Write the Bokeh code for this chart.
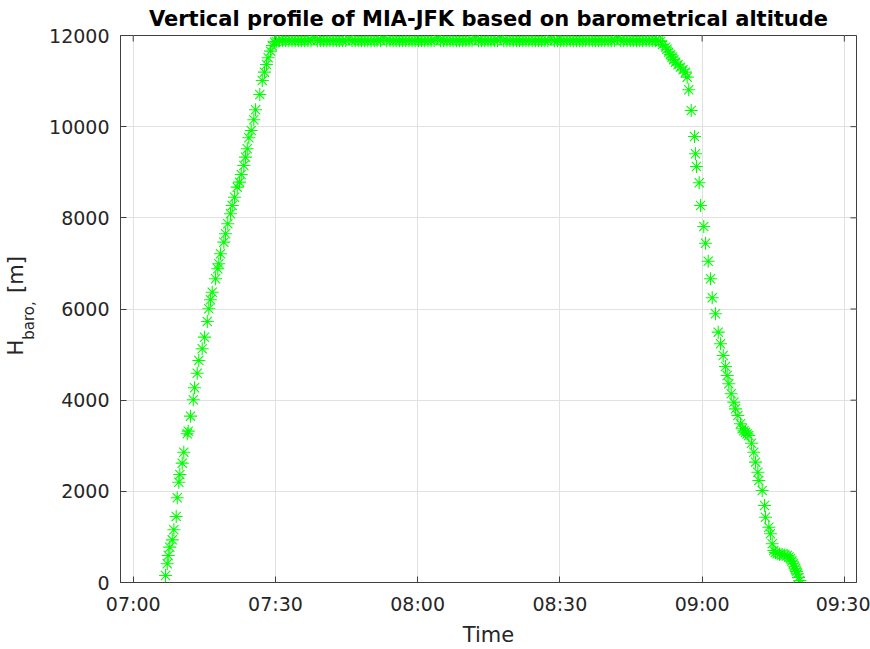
import math
import pandas as pd
from bokeh.plotting import figure
from bokeh.layouts import row
from bokeh.models import ColumnDataSource, FixedTicker, Range1d
from bokeh.core.properties import value
from bokeh.embed import file_html
from bokeh.resources import INLINE

# ---------------- data (seconds after 07:00, altitude in m) ----------------
DATE = "2019-06-01"

climb_s = [409, 430, 443, 463, 494, 514, 544, 557, 577, 590,
           620, 640, 683, 696, 725, 760, 776, 810, 830, 873,
           902, 937, 957, 978, 1000, 1042, 1070, 1083, 1105, 1147,
           1168, 1197, 1231, 1253, 1282, 1316, 1345, 1367, 1400, 1421,
           1443, 1463, 1493, 1526, 1548, 1602, 1633, 1661, 1687, 1708,
           1738, 1759, 1788]
climb_alt = [154, 410, 592, 775, 936, 1156, 1448, 1858, 2200, 2369,
             2618, 2859, 3262, 3320, 3649, 4008, 4272, 4592, 4870, 5127,
             5382, 5726, 6005, 6202, 6369, 6663, 6883, 6992, 7212, 7466,
             7650, 7870, 8089, 8271, 8453, 8673, 8783, 8951, 9149, 9331,
             9515, 9756, 9917, 10151, 10370, 10706, 11013, 11196, 11365, 11512,
             11657, 11781, 11854]

cruise_s = [1810, 1850, 1888, 1930, 1970, 2009, 2050, 2090, 2128, 2170,
            2210, 2249, 2290, 2330, 2368, 2410, 2450, 2489, 2530, 2570,
            2608, 2650, 2690, 2729, 2770, 2810, 2848, 2890, 2930, 2969,
            3010, 3050, 3088, 3130, 3170, 3209, 3250, 3290, 3328, 3370,
            3410, 3449, 3490, 3530, 3568, 3610, 3650, 3689, 3730, 3770,
            3808, 3850, 3890, 3929, 3970, 4010, 4048, 4090, 4130, 4169,
            4210, 4250, 4288, 4330, 4370, 4409, 4450, 4490, 4528, 4570,
            4610, 4649, 4690, 4730, 4768, 4810, 4850, 4889, 4930, 4970,
            5008, 5050, 5090, 5129, 5170, 5210, 5248, 5290, 5330, 5369,
            5410, 5450, 5488, 5530, 5570, 5609, 5650, 5690, 5728, 5770,
            5810, 5849, 5890, 5930, 5968, 6010, 6050, 6089, 6130, 6170,
            6208, 6250, 6290, 6329, 6370, 6410, 6448, 6490, 6530, 6569,
            6610, 6650]
cruise_alt = [11870, 11887, 11887, 11887, 11887, 11887, 11887, 11887, 11887, 11887,
              11887, 11887, 11948, 11887, 11887, 11887, 11887, 11887, 11887, 11887,
              11887, 11887, 11887, 11918, 11887, 11887, 11887, 11887, 11887, 11887,
              11887, 11887, 11887, 11887, 11948, 11887, 11887, 11887, 11887, 11887,
              11887, 11887, 11887, 11887, 11887, 11887, 11887, 11887, 11887, 11887,
              11887, 11948, 11887, 11887, 11887, 11887, 11887, 11887, 11887, 11887,
              11887, 11887, 11887, 11948, 11887, 11887, 11887, 11887, 11887, 11887,
              11887, 11948, 11887, 11887, 11887, 11887, 11887, 11887, 11887, 11887,
              11887, 11887, 11887, 11887, 11887, 11887, 11887, 11918, 11887, 11887,
              11887, 11887, 11887, 11887, 11887, 11887, 11887, 11887, 11887, 11887,
              11887, 11887, 11887, 11887, 11887, 11887, 11887, 11887, 11948, 11887,
              11887, 11887, 11887, 11887, 11887, 11887, 11887, 11887, 11887, 11887,
              11887, 11887]

descent_s = [6675, 6699, 6737, 6755, 6778, 6800, 6821, 6841, 6863, 6895,
             6926, 6958, 6990, 7011, 7031, 7062, 7104, 7116, 7129, 7163,
             7180, 7221, 7243, 7277, 7306, 7328, 7369, 7404, 7433, 7467,
             7496, 7517, 7538, 7568, 7601, 7622, 7652, 7686, 7707, 7728,
             7749, 7770, 7791, 7825, 7854, 7876, 7905, 7918, 7960, 7990,
             8002, 8044, 8065, 8087, 8107, 8128, 8150, 8180, 8213, 8245,
             8277, 8300, 8319, 8336, 8353, 8368, 8382, 8393, 8403, 8420,
             8436]
descent_alt = [11870, 11800, 11745, 11700, 11635, 11580, 11525, 11470, 11415, 11360,
               11306, 11250, 11196, 11086, 10809, 10355, 9785, 9405, 9127, 8769,
               8271, 7810, 7444, 7049, 6663, 6246, 5895, 5492, 5237, 4980,
               4739, 4542, 4359, 4140, 3956, 3810, 3664, 3482, 3372, 3330,
               3298, 3260, 3225, 3056, 2859, 2640, 2420, 2238, 2018, 1689,
               1433, 1213, 1068, 849, 702, 660, 630, 620, 614, 605,
               592, 560, 520, 470, 410, 355, 300, 245, 190, 110,
               44]

x_tick_labels = ["07:00", "07:30", "08:00", "08:30", "09:00", "09:30"]
y_ticks = [0, 2000, 4000, 6000, 8000, 10000, 12000]

title_text = "Vertical profile of MIA-JFK based on barometrical altitude"
x_label = "Time"
y_label_parts = ["H", "baro,", "[m]"]   # H_{baro}, [m]

# ---------------- build ----------------
base = pd.Timestamp(f"{DATE} 07:00:00")
secs = climb_s + cruise_s + descent_s
alts = climb_alt + cruise_alt + descent_alt
times = base + pd.to_timedelta(secs, unit="s")
t_ms = [ts.value / 1e6 for ts in times]

x_ticks = [pd.Timestamp(f"{DATE} {lbl}:00").value / 1e6 for lbl in x_tick_labels]
x_start = (base - pd.Timedelta(seconds=161)).value / 1e6
x_end = (base + pd.Timedelta(seconds=9154)).value / 1e6
y_start, y_end = 0, 12000

src = ColumnDataSource(dict(t=t_ms, alt=alts))

TEXT = "#262626"
AXC = "#404040"
FONT = "DejaVu Sans"
FRAME_W, FRAME_H = 736, 547
TICK_PX = 6

p = figure(width=830, height=649, x_axis_type="datetime",
           x_range=Range1d(x_start, x_end), y_range=Range1d(y_start, y_end),
           output_backend="svg", toolbar_location=None,
           min_border_left=80, min_border_right=14,
           min_border_top=35, min_border_bottom=67,
           title=title_text)

p.title.align = "center"
p.title.text_font = FONT
p.title.text_font_size = "21px"
p.title.text_font_style = "bold"
p.title.text_color = "#000000"
p.title.standoff = 9

xticker = FixedTicker(ticks=x_ticks)
yticker = FixedTicker(ticks=y_ticks)

p.xaxis.ticker = xticker
p.xaxis.major_label_overrides = {v: l for v, l in zip(x_ticks, x_tick_labels)}
p.yaxis.ticker = yticker
p.xaxis.axis_label = x_label
p.yaxis.axis_label = None

for ax in (p.xaxis[0], p.yaxis[0]):
    ax.axis_line_color = AXC
    ax.major_tick_line_color = AXC
    ax.major_tick_in = TICK_PX
    ax.major_tick_out = 0
    ax.minor_tick_line_color = None
    ax.major_label_text_font = FONT
    ax.major_label_text_font_size = "19px"
    ax.major_label_text_color = TEXT
    ax.axis_label_text_font = FONT
    ax.axis_label_text_font_size = "21px"
    ax.axis_label_text_font_style = "normal"
    ax.axis_label_text_color = TEXT
p.yaxis.major_label_standoff = 11
p.xaxis.major_label_standoff = 10
p.xaxis.axis_label_standoff = 5

p.xgrid.ticker = xticker
p.ygrid.ticker = yticker
p.xgrid.grid_line_color = "#e1e1e1"
p.ygrid.grid_line_color = "#e1e1e1"
p.outline_line_color = AXC
p.background_fill_color = "white"
p.border_fill_color = "white"

# inward ticks on the top and right edges of the box (from the tick arrays)
dy_tick = TICK_PX * (y_end - y_start) / FRAME_H
dx_tick = TICK_PX * (x_end - x_start) / FRAME_W
p.segment(x0=x_ticks, y0=[y_end] * len(x_ticks), x1=x_ticks,
          y1=[y_end - dy_tick] * len(x_ticks), line_color=AXC, line_width=1)
p.segment(x0=[x_end] * len(y_ticks), y0=y_ticks, x1=[x_end - dx_tick] * len(y_ticks),
          y1=y_ticks, line_color=AXC, line_width=1)

p.scatter(x="t", y="alt", source=src, marker="asterisk", size=13,
          line_color="#00ff00", line_width=1.1)

# ---- y-axis label H_{baro}, [m] in a narrow side panel (rotated, with subscript)
# (its frame is aligned with the main plot frame: 547 px tall, bottom at y=582)
lab = figure(width=40, height=649, x_range=Range1d(0, 40), y_range=Range1d(0, FRAME_H),
             x_axis_location=None, y_axis_location=None, toolbar_location=None,
             output_backend="svg", min_border=0, outline_line_color=None,
             title=None)
lab.xgrid.visible = False
lab.ygrid.visible = False
lab.background_fill_color = "white"
lab.border_fill_color = "white"
lab.text(x=[15], y=[235], text=[y_label_parts[0]], angle=math.pi / 2,
         text_font=value(FONT), text_font_size="21px", text_color=TEXT,
         text_baseline="middle", text_align="center")
lab.text(x=[28], y=[262], text=[y_label_parts[1]], angle=math.pi / 2,
         text_font=value(FONT), text_font_size="15px", text_color=TEXT,
         text_baseline="middle", text_align="center")
lab.text(x=[15], y=[308], text=[y_label_parts[2]], angle=math.pi / 2,
         text_font=value(FONT), text_font_size="21px", text_color=TEXT,
         text_baseline="middle", text_align="center")

layout = row(lab, p, spacing=0)
open("out.html", "w").write(file_html(layout, INLINE))
